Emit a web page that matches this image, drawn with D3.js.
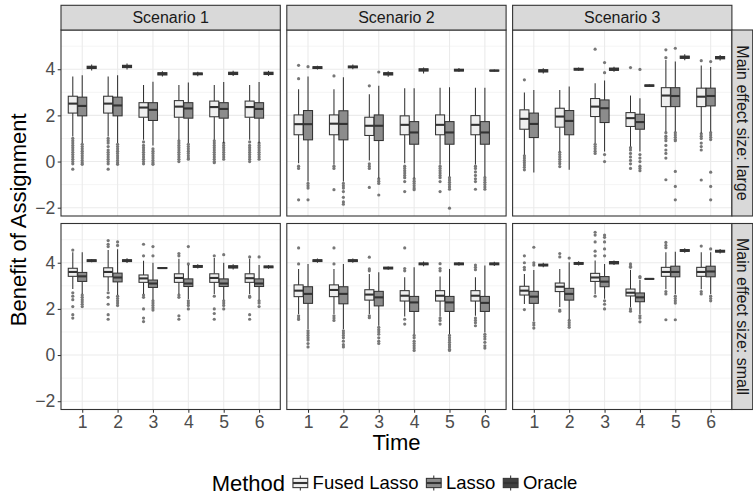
<!DOCTYPE html>
<html><head><meta charset="utf-8">
<script src="https://cdn.jsdelivr.net/npm/d3@7"></script>
<style>body{margin:0;background:#fff} text{font-family:"Liberation Sans",Arial,Helvetica,sans-serif}</style>
</head><body><svg id="c" width="753" height="495"></svg>
<script>
const scenarios = ["Scenario 1", "Scenario 2", "Scenario 3"];
const rowLabels = ["Main effect size: large", "Main effect size: small"];
const times = ["1", "2", "3", "4", "5", "6"];
const methods = ["Fused Lasso", "Lasso", "Oracle"];
const yTicks = [-2, 0, 2, 4];
const yMinor = [-1, 1, 3, 5];

// box stats: [whiskerLow, q1, median, q3, whiskerHigh], indexed [scenario][time]
const fusedLarge = [
  [[1.08,2.10,2.51,2.83,3.68],[1.08,2.10,2.51,2.83,3.68],[0.94,1.92,2.34,2.55,3.32],[0.94,1.92,2.38,2.64,3.32],[0.94,1.94,2.36,2.62,3.32],[0.94,1.92,2.36,2.62,3.32]],
  [[-0.07,1.16,1.62,2.02,3.13],[-0.13,1.16,1.64,2.02,3.13],[0.04,1.13,1.55,1.92,2.92],[-0.07,1.16,1.59,1.98,3.18],[-0.13,1.16,1.59,2.02,3.20],[-0.13,1.16,1.59,1.99,3.20]],
  [[0.29,1.40,1.85,2.24,2.99],[0.43,1.49,1.95,2.31,3.10],[0.80,1.95,2.38,2.73,3.39],[0.65,1.52,1.88,2.12,2.86],[1.30,2.38,2.86,3.20,4.40],[1.23,2.38,2.81,3.18,4.16]]
];
const lassoLarge = [
  [[0.80,1.98,2.41,2.79,3.74],[0.80,1.98,2.43,2.79,3.74],[0.70,1.78,2.24,2.55,3.46],[0.80,1.88,2.30,2.55,3.42],[0.80,1.88,2.28,2.55,3.45],[0.80,1.88,2.28,2.55,3.45]],
  [[-0.87,0.94,1.62,2.21,3.68],[-0.87,0.94,1.63,2.20,3.65],[-0.72,0.91,1.55,2.02,3.28],[-0.72,0.75,1.26,1.73,3.18],[-0.65,0.75,1.26,1.73,3.22],[-0.65,0.75,1.26,1.73,3.20]],
  [[-0.48,1.04,1.63,2.10,3.10],[-0.36,1.16,1.76,2.21,3.25],[0.43,1.69,2.31,2.67,3.51],[0.43,1.40,1.71,2.05,2.74],[1.30,2.38,2.84,3.20,4.33],[1.30,2.41,2.84,3.18,4.10]]
];
const oracleLarge = [
  [[3.95,4.03,4.08,4.13,4.21],[3.99,4.07,4.12,4.17,4.25],[3.68,3.75,3.80,3.85,3.91],[3.70,3.76,3.80,3.84,3.89],[3.71,3.77,3.82,3.87,3.93],[3.71,3.77,3.82,3.87,3.93]],
  [[3.99,4.03,4.07,4.11,4.15],[4.00,4.06,4.10,4.14,4.20],[3.67,3.75,3.80,3.85,3.91],[3.82,3.92,3.97,4.02,4.08],[3.89,3.92,3.96,4.00,4.05],[3.90,3.92,3.94,3.96,3.99]],
  [[3.82,3.88,3.93,3.98,4.04],[3.92,3.96,4.00,4.04,4.08],[3.89,3.95,4.00,4.05,4.11],[3.24,3.26,3.29,3.32,3.34],[4.39,4.47,4.52,4.57,4.65],[4.38,4.45,4.50,4.55,4.62]]
];
const fusedSmall = [
  [[2.86,3.41,3.60,3.76,4.45],[2.77,3.39,3.60,3.78,4.55],[2.65,3.15,3.32,3.47,4.09],[2.65,3.15,3.34,3.52,4.17],[2.65,3.15,3.34,3.52,4.20],[2.65,3.15,3.33,3.52,4.17]],
  [[1.78,2.53,2.79,3.04,3.73],[1.78,2.53,2.82,3.04,3.73],[1.78,2.38,2.62,2.83,3.51],[1.67,2.34,2.57,2.79,3.37],[1.67,2.34,2.57,2.79,3.40],[1.70,2.34,2.57,2.79,3.37]],
  [[2.21,2.60,2.79,2.98,3.51],[2.08,2.75,2.96,3.12,3.73],[2.65,3.19,3.36,3.54,4.10],[2.08,2.56,2.70,2.86,3.69],[2.85,3.41,3.60,3.80,4.45],[2.85,3.41,3.60,3.80,4.45]]
];
const lassoSmall = [
  [[2.65,3.19,3.41,3.58,4.45],[2.60,3.17,3.36,3.55,4.58],[2.40,2.93,3.10,3.25,4.00],[2.43,2.97,3.10,3.30,3.90],[2.40,2.97,3.10,3.30,4.00],[2.40,2.97,3.10,3.30,3.90]],
  [[1.13,2.24,2.65,2.96,3.95],[1.13,2.22,2.65,2.96,3.95],[1.27,2.13,2.50,2.76,3.59],[0.91,1.89,2.28,2.54,3.80],[0.91,1.89,2.28,2.54,3.73],[0.98,1.89,2.26,2.54,3.88]],
  [[1.48,2.24,2.53,2.76,3.69],[1.55,2.38,2.65,2.89,4.02],[2.44,2.96,3.18,3.40,3.95],[1.78,2.31,2.50,2.69,3.25],[2.65,3.39,3.60,3.85,4.48],[2.65,3.39,3.62,3.85,4.45]]
];
const oracleSmall = [
  [[4.02,4.05,4.09,4.13,4.16],[3.99,4.05,4.09,4.13,4.19],[3.73,3.75,3.77,3.79,3.81],[3.75,3.80,3.84,3.88,3.93],[3.71,3.77,3.82,3.87,3.93],[3.74,3.78,3.82,3.86,3.90]],
  [[4.00,4.05,4.09,4.13,4.18],[4.00,4.05,4.09,4.13,4.18],[3.70,3.73,3.77,3.81,3.84],[3.85,3.91,3.95,3.99,4.05],[3.87,3.91,3.95,3.99,4.03],[3.86,3.91,3.95,3.99,4.04]],
  [[3.80,3.86,3.90,3.94,4.00],[3.88,3.93,3.97,4.01,4.06],[3.90,3.95,4.00,4.05,4.10],[3.28,3.29,3.30,3.31,3.32],[4.43,4.49,4.53,4.57,4.63],[4.40,4.46,4.50,4.54,4.60]]
];

// outliers, indexed [scenario][time]
const outFusedLarge = [
  [[1.0,0.9,0.8,0.7,0.6,0.5,0.4,0.3,0.2,0.1,0.0,-0.1,-0.33],[1.0,0.9,0.8,0.65,0.5,0.4,0.3,0.2,0.1,0.0,-0.1,-0.33],[0.85,0.7,0.6,0.5,0.4,0.3,0.2,0.1,0.0,-0.1],[0.9,0.8,0.7,0.6,0.5,0.4,0.3,0.2,0.1,0.0],[0.9,0.8,0.7,0.6,0.5,0.4,0.3,0.2,0.1,0.0,-0.05],[0.85,0.7,0.6,0.5,0.4,0.3,0.2,0.1,0.0]],
  [[4.17,3.59,-0.2,-0.3,-1.66],[3.71,-0.2,-0.3,-1.22],[3.28,-0.1,-0.2,-0.3,-1.12],[-0.2,-0.3,-0.4,-0.5,-0.6,-0.7,-0.87,-1.3],[-0.2,-0.3,-0.4,-0.5,-0.6,-0.7,-0.87,-1.3],[-0.2,-0.3,-0.45,-0.6,-0.75,-0.87,-1.2]],
  [[3.54,0.25,0.15,0.05,-0.05,-0.15,-0.25,-0.36],[0.4,0.3,0.2,0.1,0.0,-0.1,-0.22],[4.87,0.75,0.65,0.55,0.45,0.35],[4.07,0.6,0.5,0.35,0.2,0.05,-0.1,-0.3],[4.84,4.5,1.25,1.1,1.0,0.9,0.7,0.5,0.35,0.15,-0.79],[4.37,1.2,1.1,1.0,0.8,0.65,0.5,-0.8]]
];
const outLassoLarge = [
  [[0.75,0.65,0.55,0.45,0.35,0.25,0.15,0.05,-0.05,-0.12],[0.75,0.65,0.55,0.45,0.35,0.25,0.15,0.05,-0.05,-0.12],[0.55,0.45,0.35,0.25,0.15,0.05,-0.05,-0.12],[0.75,0.65,0.55,0.45,0.35,0.25,0.15,0.1],[0.8,0.7,0.6,0.5,0.4,0.3,0.2,0.1],[0.8,0.7,0.6,0.5,0.4,0.3,0.2,0.1]],
  [[4.11,-0.95,-1.05,-1.15,-1.66],[-0.95,-1.05,-1.15,-1.3,-1.55,-1.75,-1.85],[3.88,-0.75,-0.85,-0.95,-1.45],[-0.75,-0.85,-0.95,-1.05,-1.15,-1.22],[-0.7,-0.8,-0.9,-1.0,-1.1,-1.2,-2.02],[-0.7,-0.8,-0.9,-1.0,-1.1,-1.2]],
  [[],[],[4.29,3.85,0.3,0.0],[3.99,0.3,0.15,0.0,-0.2,-0.3,-0.4],[4.91,1.25,1.15,1.05,0.95,0.9,-0.43,-1.08,-1.66],[4.33,1.25,1.15,1.05,0.95,-0.46,-1.08,-1.66]]
];
const outFusedSmall = [
  [[4.55,2.7,2.55,2.4,2.1,1.75,1.6],[4.96,4.8,4.7,2.7,2.5,2.2,1.75,1.55],[4.8,4.3,2.6,2.5,2.0,1.6,1.45],[4.4,4.3,2.6,2.5,1.7,1.55],[4.3,2.55,2.0,1.8,1.55],[4.25,2.55,2.5,1.75,1.55]],
  [[4.64,3.95,1.7,1.6,1.54],[4.64,3.95,1.7,1.6,1.5],[4.24,3.73,3.65,1.7,1.62],[4.64,3.75,3.65,1.55,1.34],[3.96,3.75,3.65,1.6,1.5,1.34],[3.9,3.8,3.7,1.6,1.5,1.4,1.27]],
  [[4.3,4.0,3.8,3.7,1.97],[4.4,4.25,1.95,1.9],[5.32,5.2,4.9,4.5,4.3,2.55],[3.95,3.85,3.8,2.0,1.9],[4.88,4.75,4.65,2.75,2.65,1.53],[4.72,2.75,2.65]]
];
const outLassoSmall = [
  [[2.6,2.5,2.4,2.3,2.2,2.1],[4.9,4.75,2.55,2.45,2.35,2.25,2.15],[4.7,4.3,2.35,2.25,2.15,2.05,1.95],[4.7,3.95,2.35,2.25,2.15,2.0],[4.35,2.35,2.25,2.15,2.0],[4.25,2.35,2.25,2.1]],
  [[1.05,0.95,0.85,0.75,0.65,0.5,0.35],[1.05,0.95,0.85,0.75,0.6,0.45,0.35],[1.2,1.1,1.0,0.9,0.75,0.6,0.5],[0.85,0.75,0.6,0.5,0.4,0.3,0.2],[0.85,0.75,0.65,0.55,0.45,0.35,0.25,0.2],[0.9,0.8,0.7,0.55,0.4,0.3]],
  [[4.67,4.0,3.9,1.4,1.3,1.17],[4.2,1.5,1.4,1.3,1.2],[5.2,5.1,4.9,4.6,4.3,2.35,2.2,2.0],[3.4,3.35,1.7,1.6,1.44],[2.55,2.45,2.35,2.25,1.53],[4.6,2.55,2.45,2.35]]
];

const fills = {"Fused Lasso": "#efefef", "Lasso": "#8c8c8c", "Oracle": "#414141"};
const boxStats = [
  {"Fused Lasso": fusedLarge, "Lasso": lassoLarge, "Oracle": oracleLarge},
  {"Fused Lasso": fusedSmall, "Lasso": lassoSmall, "Oracle": oracleSmall}
];
const outliers = [
  {"Fused Lasso": outFusedLarge, "Lasso": outLassoLarge, "Oracle": null},
  {"Fused Lasso": outFusedSmall, "Lasso": outLassoSmall, "Oracle": null}
];

const svg = d3.select("#c");
const panelLeft = 61, panelW = 219.3, panelStep = 225.8;
const rowTop = [30, 223.5], panelH = 186;
const stripTop = 5.3, stripRightW = 20.8;
const dark = "#333333", grid = "#ebebeb";

const x = d3.scalePoint().domain(times).range([0, panelW]).padding(0.6);
const step = x.step();
const slot = step * 0.8 / 3;
const dodge = d3.scaleBand().domain(methods).range([-step * 0.4, step * 0.4]);
const bw = slot * 0.96;

rowLabels.forEach((rl, r) => {
  const top = rowTop[r];
  const y = d3.scaleLinear().domain([-2.36, 5.7]).range([top + panelH, top]);
  scenarios.forEach((sc, s) => {
    const left = panelLeft + s * panelStep;
    const g = svg.append("g").attr("transform", `translate(${left},0)`);
    g.append("rect").attr("x", 0).attr("y", top).attr("width", panelW).attr("height", panelH).attr("fill", "#fff");
    // grid
    g.selectAll(null).data(yMinor).enter().append("line")
      .attr("x1", 0).attr("x2", panelW).attr("y1", d => y(d)).attr("y2", d => y(d))
      .attr("stroke", grid).attr("stroke-width", 0.55);
    g.selectAll(null).data(yTicks).enter().append("line")
      .attr("x1", 0).attr("x2", panelW).attr("y1", d => y(d)).attr("y2", d => y(d))
      .attr("stroke", grid).attr("stroke-width", 1.1);
    g.selectAll(null).data(times).enter().append("line")
      .attr("x1", d => x(d)).attr("x2", d => x(d)).attr("y1", top).attr("y2", top + panelH)
      .attr("stroke", grid).attr("stroke-width", 1.1);

    methods.forEach(m => {
      const st = boxStats[r][m][s];
      const ol = outliers[r][m] ? outliers[r][m][s] : times.map(() => []);
      times.forEach((t, ti) => {
        const cx = x(t) + dodge(m) + dodge.bandwidth() / 2;
        const [lo, q1, med, q3, hi] = st[ti];
        g.selectAll(null).data(ol[ti]).enter().append("circle")
          .attr("cx", cx).attr("cy", d => y(d)).attr("r", 1.6).attr("fill", "#777777");
        g.append("line").attr("x1", cx).attr("x2", cx).attr("y1", y(hi)).attr("y2", y(q3))
          .attr("stroke", dark).attr("stroke-width", 1.05);
        g.append("line").attr("x1", cx).attr("x2", cx).attr("y1", y(q1)).attr("y2", y(lo))
          .attr("stroke", dark).attr("stroke-width", 1.05);
        g.append("rect").attr("x", cx - bw / 2).attr("y", y(q3)).attr("width", bw)
          .attr("height", Math.max(0.5, y(q1) - y(q3)))
          .attr("fill", fills[m]).attr("stroke", dark).attr("stroke-width", 1.05);
        g.append("line").attr("x1", cx - bw / 2).attr("x2", cx + bw / 2).attr("y1", y(med)).attr("y2", y(med))
          .attr("stroke", dark).attr("stroke-width", 2.1);
      });
    });
    g.append("rect").attr("x", 0).attr("y", top).attr("width", panelW).attr("height", panelH)
      .attr("fill", "none").attr("stroke", dark).attr("stroke-width", 1.1);

    if (r === 0) {
      g.append("rect").attr("x", 0).attr("y", stripTop).attr("width", panelW).attr("height", top - stripTop)
        .attr("fill", "#d9d9d9").attr("stroke", dark).attr("stroke-width", 1.1);
      g.append("text").attr("x", panelW / 2).attr("y", (stripTop + top) / 2).attr("dy", "0.35em")
        .attr("text-anchor", "middle").attr("font-size", 16).attr("fill", "#1a1a1a").text(sc);
    }
    if (s === 0) {
      const ax = d3.axisLeft(y).tickValues(yTicks).tickSize(3.3).tickPadding(2.5)
        .tickFormat(d => d < 0 ? "\u2212" + Math.abs(d) : String(d));
      const a = g.append("g").call(ax);
      a.select(".domain").remove();
      a.selectAll("line").attr("stroke", dark).attr("stroke-width", 1.05);
      a.selectAll("text").attr("font-size", 17.6).attr("fill", "#4d4d4d").attr("font-family", "Liberation Sans, Arial, sans-serif");
    }
    if (r === 1) {
      const ax = d3.axisBottom(x).tickSize(3.3).tickPadding(2.5);
      const a = g.append("g").attr("transform", `translate(0,${top + panelH})`).call(ax);
      a.select(".domain").remove();
      a.selectAll("line").attr("stroke", dark).attr("stroke-width", 1.05);
      a.selectAll("text").attr("font-size", 17.6).attr("fill", "#4d4d4d").attr("font-family", "Liberation Sans, Arial, sans-serif");
    }
    if (s === scenarios.length - 1) {
      const sx = panelW;
      g.append("rect").attr("x", sx).attr("y", top).attr("width", stripRightW).attr("height", panelH)
        .attr("fill", "#d9d9d9").attr("stroke", dark).attr("stroke-width", 1.1);
      g.append("text").attr("transform", `translate(${sx + stripRightW / 2},${top + panelH / 2}) rotate(90)`)
        .attr("dy", "0.35em").attr("text-anchor", "middle").attr("font-size", 16).attr("fill", "#1a1a1a").text(rl);
    }
  });
});

// axis titles
const plotCenterX = (panelLeft + panelLeft + 2 * panelStep + panelW) / 2;
svg.append("text").attr("x", plotCenterX).attr("y", 450).attr("text-anchor", "middle")
  .attr("font-size", 22).attr("fill", "#000").text("Time");
svg.append("text").attr("transform", `translate(26,${(rowTop[0] + rowTop[1] + panelH) / 2}) rotate(-90)`)
  .attr("text-anchor", "middle").attr("font-size", 22).attr("fill", "#000").text("Benefit of Assignment");

// legend
const lg = svg.append("g");
const ly = 483;
const title = lg.append("text").attr("x", 211.7).attr("y", ly).attr("dy", "0.35em").attr("font-size", 22).text("Method");
let cx0 = 211.7 + title.node().getComputedTextLength() + 6;
const keyS = 18.5;
methods.forEach(m => {
  const k = lg.append("g").attr("transform", `translate(${cx0},${ly - keyS / 2})`);
  const mid = keyS / 2;
  k.append("line").attr("x1", mid).attr("x2", mid).attr("y1", keyS * 0.1).attr("y2", keyS * 0.9).attr("stroke", dark).attr("stroke-width", 1.05);
  k.append("rect").attr("x", keyS * 0.1).attr("y", keyS * 0.25).attr("width", keyS * 0.8).attr("height", keyS * 0.5)
    .attr("fill", fills[m]).attr("stroke", dark).attr("stroke-width", 1.05);
  k.append("line").attr("x1", keyS * 0.1).attr("x2", keyS * 0.9).attr("y1", mid).attr("y2", mid).attr("stroke", dark).attr("stroke-width", 2.1);
  const t = lg.append("text").attr("x", cx0 + keyS + 3).attr("y", ly).attr("dy", "0.35em").attr("font-size", 18.5).text(m);
  cx0 = cx0 + keyS + 3 + t.node().getComputedTextLength() + 6;
});
</script>
</body></html>
